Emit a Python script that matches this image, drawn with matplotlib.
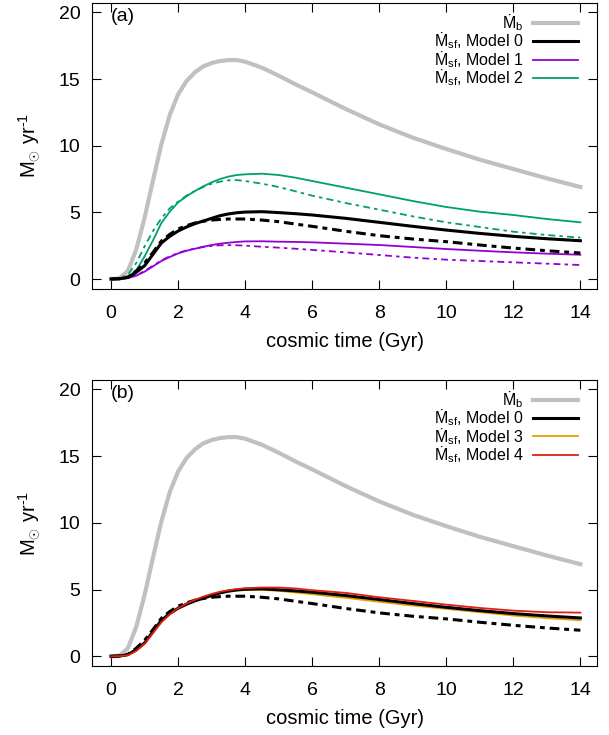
import matplotlib
matplotlib.use("Agg")
import matplotlib.pyplot as plt
from matplotlib import font_manager
from matplotlib.ft2font import FT2Font

plt.rcParams["font.family"] = ["Liberation Sans", "DejaVu Sans"]
plt.rcParams["mathtext.fontset"] = "custom"
plt.rcParams["mathtext.rm"] = "Liberation Sans"
plt.rcParams["mathtext.it"] = "Liberation Sans:italic"
# dotted M: use Liberation if it has the glyph, else DejaVu
_lib = font_manager.findfont("Liberation Sans")
if FT2Font(_lib).get_char_index(0x1E40):
    plt.rcParams["mathtext.sf"] = "Liberation Sans"
else:
    plt.rcParams["mathtext.sf"] = "DejaVu Sans"
plt.rcParams["lines.scale_dashes"] = False

# cosmic time grid (Gyr) used for all curves
t = [0, 0.25, 0.5, 0.75, 1.0, 1.25, 1.5, 1.75, 2.0, 2.25, 2.5, 2.75, 3.0, 3.25, 3.5,
     3.75, 4.0, 4.5, 5.0, 5.5, 6, 7, 8, 9, 10, 11, 12, 13, 14]

# baryonic accretion rate
mdot_b = [0, 0.05, 0.6, 2.2, 4.6, 7.4, 10.1, 12.3, 13.85, 14.85, 15.5, 15.95, 16.2, 16.35, 16.42,
          16.42, 16.3, 15.85, 15.25, 14.6, 14.0, 12.75, 11.6, 10.6, 9.75, 8.95, 8.25, 7.55, 6.9]

# star formation rates, solid lines
sf_m0 = [0, 0.02, 0.12, 0.5, 1.0, 1.85, 2.7, 3.2, 3.6, 3.9, 4.15, 4.35, 4.55, 4.75, 4.88,
         4.97, 5.02, 5.05, 4.98, 4.9, 4.8, 4.55, 4.25, 3.95, 3.67, 3.42, 3.2, 3.02, 2.87]
sf_m1 = [0, 0.01, 0.06, 0.25, 0.55, 0.95, 1.35, 1.65, 1.92, 2.12, 2.27, 2.42, 2.55, 2.65, 2.72,
         2.78, 2.82, 2.83, 2.8, 2.78, 2.75, 2.65, 2.55, 2.4, 2.25, 2.12, 2.0, 1.9, 1.82]
sf_m2 = [0, 0.02, 0.15, 0.65, 1.7, 2.9, 4.2, 5.05, 5.75, 6.2, 6.6, 6.95, 7.25, 7.5, 7.68,
         7.8, 7.85, 7.9, 7.8, 7.6, 7.35, 6.85, 6.35, 5.85, 5.4, 5.05, 4.8, 4.5, 4.25]
sf_m3 = [0, 0.01, 0.08, 0.4, 0.95, 1.75, 2.55, 3.15, 3.6, 3.93, 4.2, 4.42, 4.6, 4.75, 4.85,
         4.93, 4.97, 4.98, 4.9, 4.78, 4.65, 4.38, 4.08, 3.8, 3.55, 3.3, 3.05, 2.85, 2.7]
sf_m4 = [0, 0.01, 0.08, 0.4, 0.95, 1.75, 2.55, 3.15, 3.6, 3.95, 4.23, 4.47, 4.67, 4.83, 4.95,
         5.03, 5.1, 5.15, 5.15, 5.08, 4.95, 4.75, 4.42, 4.15, 3.87, 3.62, 3.42, 3.3, 3.27]

# dash-dotted companions
sf_m0_dd = [0, 0.02, 0.15, 0.6, 1.2, 2.0, 2.85, 3.35, 3.75, 4.0, 4.2, 4.33, 4.42, 4.47, 4.5,
            4.5, 4.5, 4.42, 4.3, 4.12, 3.95, 3.58, 3.25, 3.0, 2.8, 2.55, 2.32, 2.12, 1.95]
sf_m1_dd = [0, 0.01, 0.07, 0.28, 0.6, 1.0, 1.4, 1.7, 1.95, 2.15, 2.28, 2.4, 2.48, 2.53, 2.54,
            2.53, 2.5, 2.42, 2.35, 2.27, 2.18, 2.0, 1.8, 1.6, 1.45, 1.35, 1.25, 1.15, 1.05]
sf_m2_dd = [0, 0.05, 0.3, 1.2, 2.45, 3.6, 4.55, 5.3, 5.8, 6.25, 6.6, 6.9, 7.15, 7.3, 7.4,
            7.42, 7.35, 7.15, 6.9, 6.58, 6.25, 5.7, 5.2, 4.7, 4.25, 3.9, 3.55, 3.3, 3.1]

xticks = [0, 2, 4, 6, 8, 10, 12, 14]
yticks = [0, 5, 10, 15, 20]

GRAY = "#c0c0c0"
PURPLE = "#9400d3"
TEAL = "#009e73"
ORANGE = "#e69f00"
RED = "#e51e10"

DASH_THICK = (0, (7, 3.5, 3.5, 3.5))
DASH_THIN = (0, (5, 3, 2.5, 3))

lab_b = "$\\mathsf{\u1e40}_{\\mathrm{b}}$"


def lab_sf(n):
    return "$\\mathsf{\u1e40}_{\\mathrm{sf}}$, Model " + str(n)


def style_axes(ax, tag):
    ax.set_xlim(-0.56, 14.5)
    ax.set_ylim(-0.75, 20.7)
    ax.set_xticks(xticks)
    ax.set_yticks(yticks)
    ax.tick_params(direction="in", length=6.5, width=0.8, labelsize=14,
                   top=True, right=True)
    ax.tick_params(axis="x", pad=11.5)
    ax.tick_params(axis="y", pad=8.5)
    ax.set_xlabel("cosmic time (Gyr)", fontsize=14.5, labelpad=7)
    ax.set_ylabel(r"M$_{\odot}$ yr$^{\text{-1}}$", fontsize=14.5, labelpad=12)
    ax.text(0.037, 0.952, tag, transform=ax.transAxes, fontsize=14, va="center", ha="left")
    leg = ax.legend(loc="upper right", bbox_to_anchor=(0.962, 0.968), frameon=False,
                    markerfirst=False, fontsize=11.5, handlelength=2.8, handletextpad=0.6,
                    labelspacing=-0.14, borderaxespad=0.0, borderpad=0.0)
    return leg


fig = plt.figure(figsize=(6.09, 7.35), dpi=100)
ax1 = fig.add_axes([0.1516, 0.6068, 0.8289, 0.3891])
ax2 = fig.add_axes([0.1516, 0.0935, 0.8289, 0.3895])

# panel (a)
ax1.plot(t, mdot_b, color=GRAY, lw=3.0, label=lab_b, zorder=2)
ax1.plot(t, sf_m0, color="black", lw=2.2, label=lab_sf(0), zorder=4)
ax1.plot(t, sf_m1, color=PURPLE, lw=1.3, label=lab_sf(1), zorder=3)
ax1.plot(t, sf_m2, color=TEAL, lw=1.3, label=lab_sf(2), zorder=3)
ax1.plot(t, sf_m0_dd, color="black", lw=2.2, ls=DASH_THICK, zorder=4)
ax1.plot(t, sf_m1_dd, color=PURPLE, lw=1.3, ls=DASH_THIN, zorder=3)
ax1.plot(t, sf_m2_dd, color=TEAL, lw=1.3, ls=DASH_THIN, zorder=3)
style_axes(ax1, "(a)")

# panel (b)
ax2.plot(t, mdot_b, color=GRAY, lw=3.0, label=lab_b, zorder=2)
ax2.plot(t, sf_m0, color="black", lw=2.2, label=lab_sf(0), zorder=4)
ax2.plot(t, sf_m3, color=ORANGE, lw=1.3, label=lab_sf(3), zorder=3)
ax2.plot(t, sf_m4, color=RED, lw=1.3, label=lab_sf(4), zorder=5)
ax2.plot(t, sf_m0_dd, color="black", lw=2.2, ls=DASH_THICK, zorder=4)
style_axes(ax2, "(b)")

fig.savefig("out.png", dpi=100)
